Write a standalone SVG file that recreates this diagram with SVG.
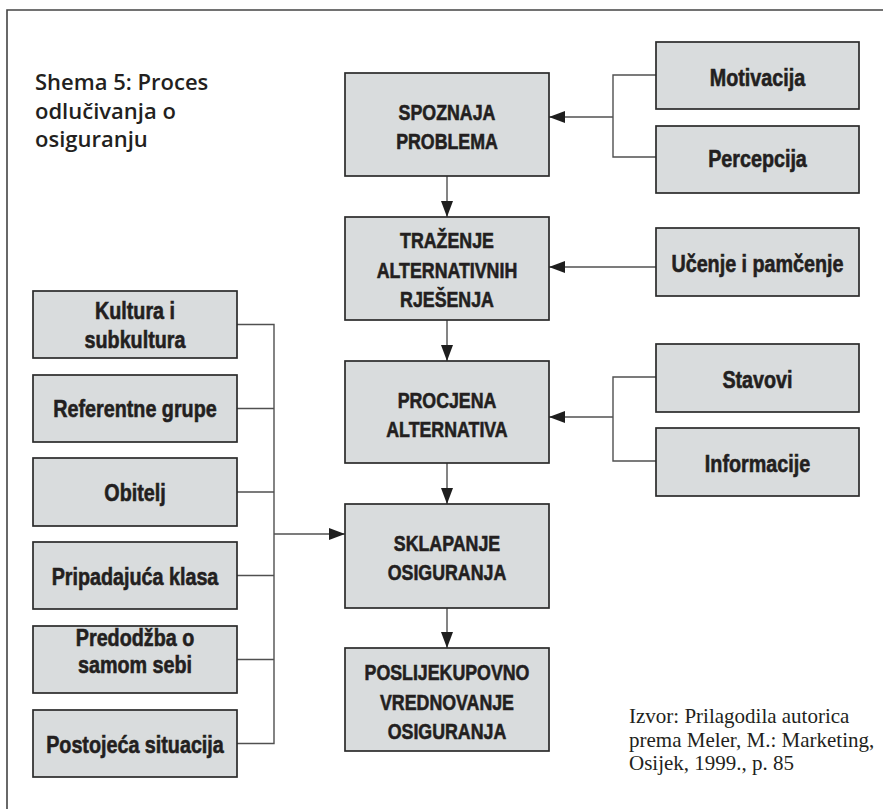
<svg xmlns="http://www.w3.org/2000/svg" width="883" height="809" viewBox="0 0 883 809">
<defs>
<style>
.box{fill:#d9dcdd;stroke:#2b2b2b;stroke-width:1.7}
.lbl{font-family:"Liberation Sans",Arial,sans-serif;font-weight:bold;font-size:23.5px;fill:#231f20;stroke:#231f20;stroke-width:0.6;text-anchor:middle}
.cap{font-family:"Liberation Sans",Arial,sans-serif;font-weight:bold;font-size:22.5px;fill:#231f20;stroke:#231f20;stroke-width:0.6;text-anchor:middle}
.ln{fill:none;stroke:#505050;stroke-width:1.4}
.title{font-family:"Open Sans","Noto Sans",sans-serif;font-weight:600;font-size:22px;fill:#231f20}
.src{font-family:"Liberation Serif","DejaVu Serif",serif;font-size:21px;fill:#231f20}
</style>
<marker id="ah" markerWidth="16" markerHeight="12" refX="16" refY="6" orient="auto" markerUnits="userSpaceOnUse">
<path d="M0,0 L16,6 L0,12 Z" fill="#1e1e1e"/>
</marker>
</defs>
<rect width="883" height="809" fill="#ffffff"/>
<path d="M7,809 V10 H883" fill="none" stroke="#444" stroke-width="1.6"/>
<g id="title">
<text class="title" x="35" y="90">Shema 5: Proces</text>
<text class="title" x="35" y="118.5">odlučivanja o</text>
<text class="title" x="35" y="147">osiguranju</text>
</g>
<g id="connectors">
<path class="ln" d="M447,176 V217" marker-end="url(#ah)"/>
<path class="ln" d="M447,320 V361" marker-end="url(#ah)"/>
<path class="ln" d="M447,463 V504" marker-end="url(#ah)"/>
<path class="ln" d="M447,608 V648" marker-end="url(#ah)"/>
<path class="ln" d="M656,75 H613 V157 H656"/>
<path class="ln" d="M613,117 H549" marker-end="url(#ah)"/>
<path class="ln" d="M656,267 H549" marker-end="url(#ah)"/>
<path class="ln" d="M656,377 H613 V461 H656"/>
<path class="ln" d="M613,417 H549" marker-end="url(#ah)"/>
<path class="ln" d="M237,324.5 H274 V743.5 H237"/>
<path class="ln" d="M237,408.5 H274 M237,492 H274 M237,575.5 H274 M237,659.5 H274"/>
<path class="ln" d="M274,534 H345" marker-end="url(#ah)"/>
</g>
<g id="spoznaja"><rect class="box" x="345" y="73" width="204" height="103"/>
<g transform="matrix(0.79 0 0 1 93.87 0)"><text class="cap" x="447" y="120">SPOZNAJA</text><text class="cap" x="447" y="149">PROBLEMA</text></g></g>
<g id="trazenje"><rect class="box" x="345" y="217" width="204" height="103"/>
<g transform="matrix(0.79 0 0 1 93.87 0)"><text class="cap" x="447" y="248">TRAŽENJE</text><text class="cap" x="447" y="278">ALTERNATIVNIH</text><text class="cap" x="447" y="307">RJEŠENJA</text></g></g>
<g id="procjena"><rect class="box" x="345" y="361" width="204" height="102"/>
<g transform="matrix(0.79 0 0 1 93.87 0)"><text class="cap" x="447" y="408">PROCJENA</text><text class="cap" x="447" y="437">ALTERNATIVA</text></g></g>
<g id="sklapanje"><rect class="box" x="345" y="504" width="204" height="104"/>
<g transform="matrix(0.79 0 0 1 93.87 0)"><text class="cap" x="447" y="551">SKLAPANJE</text><text class="cap" x="447" y="580">OSIGURANJA</text></g></g>
<g id="poslijekupovno"><rect class="box" x="345" y="648" width="204" height="103"/>
<g transform="matrix(0.79 0 0 1 93.87 0)"><text class="cap" x="447" y="680">POSLIJEKUPOVNO</text><text class="cap" x="447" y="710">VREDNOVANJE</text><text class="cap" x="447" y="739">OSIGURANJA</text></g></g>
<g id="motivacija"><rect class="box" x="656" y="42" width="203" height="67"/>
<g transform="matrix(0.84 0 0 1 121.2 0)"><text class="lbl" x="757.5" y="86">Motivacija</text></g></g>
<g id="percepcija"><rect class="box" x="656" y="126" width="203" height="67"/>
<g transform="matrix(0.84 0 0 1 121.2 0)"><text class="lbl" x="757.5" y="167">Percepcija</text></g></g>
<g id="ucenje"><rect class="box" x="656" y="228" width="203" height="68"/>
<g transform="matrix(0.84 0 0 1 121.2 0)"><text class="lbl" x="757.5" y="272">Učenje i pamčenje</text></g></g>
<g id="stavovi"><rect class="box" x="656" y="344" width="203" height="68"/>
<g transform="matrix(0.84 0 0 1 121.2 0)"><text class="lbl" x="757.5" y="388">Stavovi</text></g></g>
<g id="informacije"><rect class="box" x="656" y="428" width="203" height="68"/>
<g transform="matrix(0.84 0 0 1 121.2 0)"><text class="lbl" x="757.5" y="472">Informacije</text></g></g>
<g id="kultura"><rect class="box" x="33" y="291" width="204" height="67"/>
<g transform="matrix(0.84 0 0 1 21.6 0)"><text class="lbl" x="135" y="319">Kultura i</text><text class="lbl" x="135" y="348">subkultura</text></g></g>
<g id="referentne"><rect class="box" x="33" y="375" width="204" height="67"/>
<g transform="matrix(0.84 0 0 1 21.6 0)"><text class="lbl" x="135" y="417">Referentne grupe</text></g></g>
<g id="obitelj"><rect class="box" x="33" y="458" width="204" height="68"/>
<g transform="matrix(0.84 0 0 1 21.6 0)"><text class="lbl" x="135" y="501">Obitelj</text></g></g>
<g id="pripadajuca"><rect class="box" x="33" y="542" width="204" height="67"/>
<g transform="matrix(0.84 0 0 1 21.6 0)"><text class="lbl" x="135" y="585">Pripadajuća klasa</text></g></g>
<g id="predodzba"><rect class="box" x="33" y="626" width="204" height="67"/>
<g transform="matrix(0.84 0 0 1 21.6 0)"><text class="lbl" x="135" y="646">Predodžba o</text><text class="lbl" x="135" y="673">samom sebi</text></g></g>
<g id="postojeca"><rect class="box" x="33" y="710" width="204" height="67"/>
<g transform="matrix(0.84 0 0 1 21.6 0)"><text class="lbl" x="135" y="753">Postojeća situacija</text></g></g>
<g id="izvor">
<text class="src" x="629" y="723">Izvor: Prilagodila autorica</text>
<text class="src" x="629" y="747">prema Meler, M.: Marketing,</text>
<text class="src" x="629" y="770">Osijek, 1999., p. 85</text>
</g>
</svg>
